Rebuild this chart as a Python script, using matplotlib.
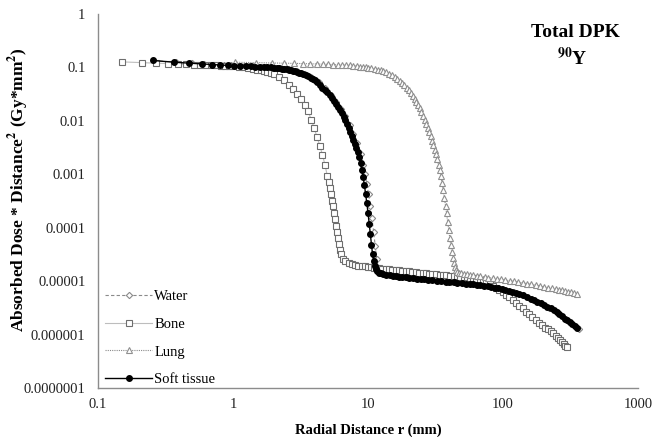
import matplotlib
matplotlib.use("Agg")
import matplotlib.pyplot as plt

# ===== data =====
water_r = [0.26, 0.38, 0.5, 0.61, 0.73, 0.85, 0.96, 1.08, 1.2, 1.32, 1.43, 1.55, 1.67, 1.78, 1.9,
           2.2, 2.6, 3.0, 3.4, 3.8, 4.3, 4.8, 5.3, 5.8, 6.3, 6.8, 7.3, 7.8, 8.3, 8.8, 9.2, 9.5,
           9.8, 10.1, 10.4, 10.7, 11.0, 11.3, 11.6, 11.9, 12.5, 14, 16, 19, 23, 28, 34, 41, 50,
           60, 72, 86, 100, 120, 140, 165, 190, 220, 250, 280, 310, 340, 367]
water_d = [0.134, 0.124, 0.119, 0.115, 0.112, 0.11, 0.109, 0.108, 0.107, 0.106, 0.105, 0.104, 0.103, 0.102, 0.101,
           0.098, 0.093, 0.085, 0.076, 0.066, 0.053, 0.041, 0.031, 0.023, 0.017, 0.0122, 0.0085, 0.0058, 0.0038, 0.0024, 0.0015, 0.001,
           6.6e-4, 4.2e-4, 2.6e-4, 1.5e-4, 8.5e-5, 4.6e-5, 2.6e-5, 1.8e-5, 1.5e-5, 1.35e-5, 1.27e-5, 1.21e-5, 1.15e-5, 1.09e-5, 1.03e-5, 9.8e-6, 9.3e-6,
           8.9e-6, 8.4e-6, 7.8e-6, 7.2e-6, 6.3e-6, 5.5e-6, 4.6e-6, 3.9e-6, 3.2e-6, 2.6e-6, 2.1e-6, 1.75e-6, 1.45e-6, 1.25e-6]

bone_r = [0.15, 0.21, 0.27, 0.33, 0.39, 0.45, 0.51, 0.57, 0.63, 0.69, 0.75, 0.81, 0.87, 0.93, 0.99,
          1.1, 1.2, 1.3, 1.4, 1.5, 1.6, 1.7, 1.8, 1.9, 2.0,
          2.2, 2.4, 2.6, 2.8, 3.0, 3.2, 3.4, 3.6, 3.8,
          4.0, 4.2, 4.4, 4.6, 4.8, 5.0,
          5.1, 5.2, 5.3, 5.4, 5.5, 5.6, 5.7, 5.8, 5.9, 6.0, 6.1, 6.2, 6.3,
          6.5, 6.8, 7.2, 7.6, 8, 8.5, 9, 9.5, 10, 10.5,
          11, 11.5, 12, 12.7, 13.5, 14.2, 15, 16, 17, 18,
          19, 20, 21, 22.5, 24, 25.5, 27, 28.5, 30, 32,
          34, 36, 38, 40.5, 43, 45.5, 48, 51, 54, 57,
          60, 63.5, 67, 71, 75, 79.5, 84, 89, 94, 99.5,
          105, 111, 118, 125, 132, 140, 148, 156, 165, 175,
          185, 195, 205, 215, 225, 235, 245, 255, 265, 274,
          282, 290, 298]
bone_d = [0.127, 0.123, 0.12, 0.118, 0.116, 0.114, 0.113, 0.112, 0.111, 0.11, 0.109, 0.108, 0.107, 0.106, 0.105,
          0.103, 0.1, 0.097, 0.094, 0.091, 0.088, 0.085, 0.082, 0.078, 0.074,
          0.066, 0.057, 0.047, 0.039, 0.032, 0.026, 0.02, 0.015, 0.0105,
          0.0072, 0.0049, 0.0034, 0.0023, 0.0015, 9.2e-4,
          7.2e-4, 5.5e-4, 4.2e-4, 3.2e-4, 2.5e-4, 1.9e-4, 1.45e-4, 1.1e-4, 8.5e-5, 6.5e-5, 5e-5, 3.9e-5, 3.2e-5,
          2.6e-5, 2.35e-5, 2.2e-5, 2.1e-5, 2.02e-5, 1.96e-5, 1.92e-5, 1.89e-5, 1.86e-5, 1.83e-5,
          1.8e-5, 1.77e-5, 1.75e-5, 1.72e-5, 1.7e-5, 1.67e-5, 1.65e-5, 1.62e-5, 1.6e-5, 1.57e-5,
          1.55e-5, 1.52e-5, 1.5e-5, 1.47e-5, 1.45e-5, 1.42e-5, 1.4e-5, 1.38e-5, 1.36e-5, 1.34e-5,
          1.32e-5, 1.3e-5, 1.28e-5, 1.26e-5, 1.25e-5, 1.23e-5, 1.22e-5, 1.21e-5, 1.2e-5, 1.17e-5,
          1.13e-5, 1.09e-5, 1.05e-5, 1.0e-5, 9.5e-6, 8.9e-6, 8.3e-6, 7.6e-6, 6.9e-6, 6.25e-6,
          5.6e-6, 5.0e-6, 4.4e-6, 3.95e-6, 3.5e-6, 3.1e-6, 2.7e-6, 2.4e-6, 2.1e-6, 1.85e-6,
          1.65e-6, 1.5e-6, 1.35e-6, 1.25e-6, 1.15e-6, 1.05e-6, 9.5e-7, 8.6e-7, 7.8e-7, 7.2e-7,
          6.7e-7, 6.2e-7, 5.8e-7]

lung_r = [1.03, 1.48, 1.93, 2.38, 2.83, 3.28, 3.73, 4.18, 4.63, 5.08, 5.53, 5.98, 6.43, 6.88, 7.33, 7.78,
          8.23, 8.68, 9.13, 9.58, 10.03,
          10.6, 11.2, 11.8, 12.4, 13, 13.7, 14.4, 15.1, 15.8, 16.5,
          17.2, 17.9, 18.6, 19.3, 20, 20.7, 21.4, 22.1, 22.8, 23.5,
          24.2, 24.9, 25.6, 26.3, 27, 27.7, 28.4, 29.1, 29.8, 30.5,
          31.2, 31.9, 32.6, 33.3, 34, 34.7, 35.4, 36.1, 36.8, 37.5,
          38.2, 38.9, 39.6, 40.3, 41, 41.7, 42.4, 43.1, 43.8, 44.5,
          45.5, 47, 49, 51.5, 54, 57, 60, 64, 68, 73,
          78, 84, 90, 97, 104, 112, 120, 130, 140, 150,
          162, 175, 188, 200, 215, 230, 245, 260, 275, 290,
          305, 320, 336, 353]
lung_d = [0.125, 0.123, 0.121, 0.12, 0.119, 0.118, 0.117, 0.116, 0.115, 0.114, 0.113, 0.112, 0.111, 0.11, 0.109, 0.107,
          0.106, 0.104, 0.102, 0.1, 0.098,
          0.096, 0.094, 0.091, 0.088, 0.085, 0.081, 0.076, 0.071, 0.065, 0.06,
          0.056, 0.052, 0.047, 0.042, 0.037, 0.033, 0.029, 0.026, 0.023, 0.02,
          0.0172, 0.0147, 0.0125, 0.0106, 0.0089, 0.0074, 0.0062, 0.0051, 0.0042, 0.0035,
          0.0029, 0.0024, 0.0019, 0.0015, 0.0012, 9.2e-4, 6.9e-4, 5e-4, 3.6e-4, 2.6e-4,
          1.85e-4, 1.3e-4, 9.2e-5, 6.5e-5, 4.7e-5, 3.5e-5, 2.7e-5, 2.2e-5, 1.85e-5, 1.62e-5,
          1.5e-5, 1.45e-5, 1.41e-5, 1.38e-5, 1.35e-5, 1.32e-5, 1.29e-5, 1.26e-5, 1.23e-5, 1.2e-5,
          1.17e-5, 1.14e-5, 1.11e-5, 1.08e-5, 1.05e-5, 1.02e-5, 9.9e-6, 9.6e-6, 9.3e-6, 9.0e-6,
          8.7e-6, 8.4e-6, 8.1e-6, 7.85e-6, 7.6e-6, 7.35e-6, 7.1e-6, 6.9e-6, 6.7e-6, 6.5e-6,
          6.3e-6, 6.15e-6, 6.0e-6, 5.8e-6]

soft_r = [0.255, 0.365, 0.475, 0.585, 0.695, 0.805, 0.915, 1.025, 1.135, 1.245, 1.355, 1.465, 1.575, 1.685, 1.795, 1.905,
          2.0, 2.1, 2.2, 2.3, 2.4, 2.5, 2.6, 2.7, 2.8, 2.9,
          3.0, 3.1, 3.2, 3.3,
          3.45, 3.6, 3.75, 3.9, 4.05, 4.2,
          4.4, 4.6, 4.8, 5.0, 5.2, 5.4, 5.6, 5.8, 6.0,
          6.2, 6.4, 6.6, 6.8, 7.0, 7.2, 7.4, 7.6, 7.8, 8.0,
          8.2, 8.4, 8.6, 8.8, 9.0, 9.2, 9.4, 9.6, 9.8, 10.0,
          10.2, 10.4, 10.6, 10.8, 11.0, 11.2, 11.4, 11.7, 12.0,
          12.5, 13, 13.7, 14.5, 15.3, 16, 17, 18, 19, 20,
          21.5, 23, 24.5, 26, 28, 30, 32.5, 35, 37.5, 40,
          43, 46, 49.5, 53, 56.5, 60, 64, 68, 72.5, 77,
          82, 87, 92.5, 98, 104, 110, 117, 125, 132, 140,
          150, 160, 170, 180, 190, 200, 212, 225, 237, 250,
          262, 275, 287, 300, 312, 325, 339, 353]
soft_d = [0.135, 0.125, 0.12, 0.116, 0.113, 0.111, 0.109, 0.108, 0.107, 0.106, 0.105, 0.104, 0.103, 0.102, 0.101, 0.1,
          0.099, 0.098, 0.0965, 0.095, 0.0935, 0.092, 0.0905, 0.089, 0.087, 0.085,
          0.0825, 0.08, 0.0775, 0.075,
          0.0715, 0.068, 0.0645, 0.061, 0.057, 0.053,
          0.0475, 0.042, 0.038, 0.034, 0.0305, 0.027, 0.024, 0.021, 0.0185,
          0.016, 0.014, 0.012, 0.0103, 0.0088, 0.0075, 0.0063, 0.0053, 0.0044, 0.0037,
          0.0031, 0.0026, 0.0021, 0.0016, 0.0012, 8.8e-4, 6.3e-4, 4.3e-4, 2.9e-4, 1.9e-4,
          1.2e-4, 7.5e-5, 4.8e-5, 3.2e-5, 2.4e-5, 1.9e-5, 1.7e-5, 1.55e-5, 1.45e-5,
          1.4e-5, 1.35e-5, 1.31e-5, 1.28e-5, 1.26e-5, 1.24e-5, 1.22e-5, 1.2e-5, 1.18e-5, 1.16e-5,
          1.14e-5, 1.12e-5, 1.1e-5, 1.08e-5, 1.06e-5, 1.04e-5, 1.02e-5, 1.0e-5, 9.85e-6, 9.7e-6,
          9.5e-6, 9.3e-6, 9.15e-6, 9.0e-6, 8.85e-6, 8.7e-6, 8.55e-6, 8.4e-6, 8.2e-6, 8.0e-6,
          7.8e-6, 7.6e-6, 7.35e-6, 7.1e-6, 6.85e-6, 6.6e-6, 6.3e-6, 6.0e-6, 5.7e-6, 5.4e-6,
          5.05e-6, 4.7e-6, 4.4e-6, 4.1e-6, 3.85e-6, 3.6e-6, 3.35e-6, 3.1e-6, 2.85e-6, 2.6e-6,
          2.4e-6, 2.2e-6, 2.0e-6, 1.85e-6, 1.7e-6, 1.55e-6, 1.43e-6, 1.32e-6]

x_ticks = [0.1, 1, 10, 100, 1000]
x_labels = ["0.1", "1", "10", "100", "1000"]
y_ticks = [1e-7, 1e-6, 1e-5, 1e-4, 1e-3, 1e-2, 1e-1, 1]
y_labels = ["0.0000001", "0.000001", "0.00001", "0.0001", "0.001", "0.01", "0.1", "1"]

# ===== plot =====
plt.rcParams["font.family"] = ["Liberation Serif", "DejaVu Serif"]
plt.rcParams["mathtext.fontset"] = "stix"

fig = plt.figure(figsize=(6.67, 4.37), dpi=100)
ax = fig.add_axes([0.147, 0.112, 0.8095, 0.856])

ax.plot(water_r, water_d, linestyle=(0, (3, 2)), color="#8a8a8a", linewidth=0.8,
        marker="D", markersize=3.2, markerfacecolor="white", markeredgecolor="#8a8a8a",
        markeredgewidth=0.8, label="Water")
ax.plot(bone_r, bone_d, linestyle="-", color="#bdbdbd", linewidth=0.8,
        marker="s", markersize=4.6, markerfacecolor="white", markeredgecolor="#6e6e6e",
        markeredgewidth=0.8, label="Bone")
ax.plot(lung_r, lung_d, linestyle=(0, (1, 1)), color="#8a8a8a", linewidth=0.8,
        marker="^", markersize=4.5, markerfacecolor="white", markeredgecolor="#8f8f8f",
        markeredgewidth=0.8, label="Lung")
ax.plot(soft_r, soft_d, linestyle="-", color="black", linewidth=1.0,
        marker="o", markersize=4, markerfacecolor="black", markeredgecolor="black",
        label="Soft tissue")

ax.set_xscale("log")
ax.set_yscale("log")
ax.set_xlim(0.1, 1000)
ax.set_ylim(1e-7, 1)
ax.set_xticks(x_ticks)
ax.set_xticklabels(x_labels)
ax.set_yticks(y_ticks)
ax.set_yticklabels(y_labels)
ax.minorticks_off()
ax.tick_params(length=0, labelsize=10.5, colors="#222222")
ax.tick_params(axis="x", pad=7)
ax.tick_params(axis="y", pad=9)

for side in ["top", "right"]:
    ax.spines[side].set_visible(False)
for side in ["left", "bottom"]:
    ax.spines[side].set_color("#8c8c8c")
    ax.spines[side].set_linewidth(1.0)

ax.set_xlabel("Radial Distance r (mm)", fontsize=10.5, fontweight="bold")
ax.set_ylabel(r"Absorbed Dose * Distance$^{\mathbf{2}}$ (Gy*mm$^{\mathbf{2}}$)",
              fontsize=12.5, fontweight="bold")
ax.yaxis.set_label_coords(-0.125, 0.53)
ax.xaxis.set_label_coords(0.5, -0.095)

fig.text(0.862, 0.925, "Total DPK", fontsize=14, fontweight="bold", ha="center", va="center")
fig.text(0.858, 0.867, r"$^{\mathbf{90}}$Y", fontsize=14, fontweight="bold", ha="center", va="center")

ax.legend(loc="lower left", bbox_to_anchor=(0.0, -0.015), frameon=False, fontsize=10.5,
          numpoints=1, handlelength=3.2, handletextpad=0.15, labelspacing=1.0,
          borderaxespad=0.1)

plt.savefig("out.png", dpi=100)
